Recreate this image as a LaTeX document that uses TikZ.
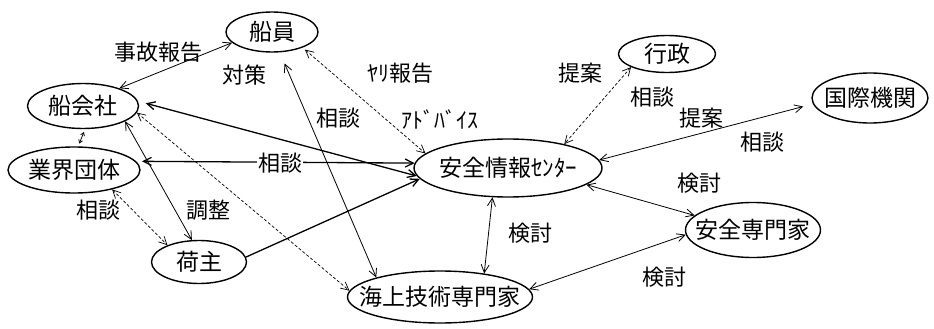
\documentclass[tikz,border=0pt]{standalone}
\usepackage{fontspec}
\setmainfont{Noto Sans CJK JP}
\usetikzlibrary{shapes.geometric,arrows.meta}
\begin{document}
\begin{tikzpicture}[x=1pt,y=-1pt,
  nd/.style={ellipse,draw,line width=1.4pt,inner sep=0pt,font=\fontsize{23}{25}\selectfont},
  lb/.style={font=\fontsize{22}{24}\selectfont,inner sep=1pt},
  thk/.style={line width=1.3pt},
  thn/.style={line width=0.8pt},
  dsh/.style={line width=0.7pt,densely dashed},
  tip/.style={{Straight Barb[length=8pt,width=8pt]}-{Straight Barb[length=8pt,width=8pt]}},
  tipr/.style={-{Straight Barb[length=8pt,width=8pt]}},
  tips/.style={{Straight Barb[length=3pt,width=4pt]}-{Straight Barb[length=3pt,width=4pt]}}]
\useasboundingbox[fill=white] (0,0) rectangle (934,329);

% nodes
\node[nd,minimum width=92pt,minimum height=40pt] (crew) at (272,32) {\makebox[0pt]{船員}};
\node[nd,minimum width=111pt,minimum height=45pt] (shipco) at (83,106) {\makebox[0pt]{船会社}};
\node[nd,minimum width=132pt,minimum height=46pt] (gyokai) at (74,170) {\makebox[0pt]{業界団体}};
\node[nd,minimum width=95pt,minimum height=43pt] (ninushi) at (199,262) {\makebox[0pt]{荷主}};
\node[nd,minimum width=185pt,minimum height=52pt] (kaijo) at (440,297) {\makebox[0pt]{海上技術専門家}};
\node[nd,minimum width=188pt,minimum height=58pt] (center) at (508,168) {\makebox[0pt]{安全情報ｾﾝﾀｰ}};
\node[nd,minimum width=97pt,minimum height=37pt] (gyosei) at (667,54) {\makebox[0pt]{行政}};
\node[nd,minimum width=116pt,minimum height=50pt] (kokusai) at (870,98) {\makebox[0pt]{国際機関}};
\node[nd,minimum width=135pt,minimum height=55pt] (anzen) at (753,230) {\makebox[0pt]{安全専門家}};

% connectors
\draw[thn,tip] (crew.195) -- (shipco.26);
\draw[dsh,tip,shorten <=3pt] (crew.-27) -- (center.170);
\draw[thn,tip,shorten <=12pt] (crew.-69) -- (kaijo.163);
\draw[thk,tip,shorten <=8pt] (shipco.5) -- (center.185);
\draw[thn,tip] (shipco.-20) -- (ninushi.108);
\draw[dsh,tip] (shipco.-7) -- (kaijo.176);
\draw[thk,tip,shorten <=6pt] (gyokai.8) -- (center.177);
\draw[dsh,tip] (gyokai.-27) -- (ninushi.152);
\draw[thk,tipr] (ninushi.6) -- (center.187);
\draw[thn,tips,shorten <=3pt,shorten >=3pt] (shipco.-85) -- (gyokai.80);
\draw[dsh,tip] (gyosei.200) -- (center.23);
\draw[thn,tip,shorten >=10pt] (center.5) -- (kokusai.186);
\draw[thn,tip] (center.-12) -- (anzen.166);
\draw[thn,tip] (kaijo.5) -- (anzen.184);
\draw[thn,tip] (center.242) -- (kaijo.28);

% labels
\node[lb] (l1) at (158,52) {事故報告};
\node[lb] (l2) at (244,75) {対策};
\node[lb] (l3) at (400,73) {ﾔﾘ報告};
\node[lb] (l4) at (338,118) {相談};
\node[lb] (l5) at (440,120) {ｱﾄﾞﾊﾞｲｽ};
\node[lb] (l6) at (580,73) {提案};
\node[lb] (l7) at (652,97) {相談};
\node[lb] (l8) at (701,118) {提案};
\node[lb] (l9) at (762,142) {相談};
\node[lb] (l10) at (699,183) {検討};
\node[lb] (l11) at (530,233) {検討};
\node[lb] (l12) at (664,277) {検討};
\node[lb,fill=white] (l13) at (280,163) {相談};
\node[lb] (l14) at (98,210) {相談};
\node[lb] (l15) at (208,210) {調整};
\end{tikzpicture}
\end{document}
